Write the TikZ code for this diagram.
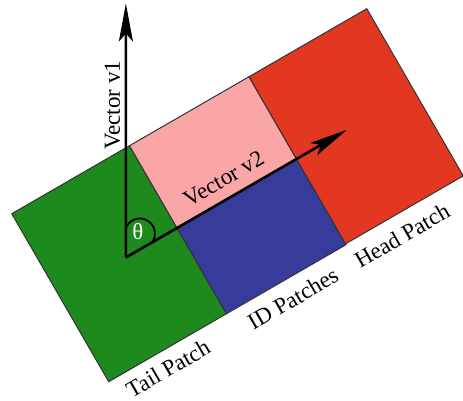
\documentclass[tikz,border=0pt]{standalone}
\usepackage{fontspec}
\setmainfont{Liberation Serif}
\usetikzlibrary{arrows.meta}

\definecolor{tailgreen}{RGB}{30,138,30}
\definecolor{idpink}{RGB}{250,166,166}
\definecolor{idblue}{RGB}{55,60,155}
\definecolor{headred}{RGB}{226,56,34}

\begin{document}
\begin{tikzpicture}[x=0.5pt, y=0.5pt, >={Stealth[length=19pt,width=7pt,inset=4pt]},
    patch/.style={draw=black!80, line width=0.5pt},
    vec/.style={->, line width=1.3pt},
    lbl/.style={font=\fontsize{11.5}{13}\selectfont, inner sep=0pt}]
  \useasboundingbox (0,0) rectangle (463,401);
  % patches, in the frame of the strip
  \begin{scope}[shift={(177,173)}, rotate=30]
    \draw[patch, fill=tailgreen] (-136,-99) rectangle (0,95);
    \draw[patch, fill=idpink] (0,0) rectangle (138,95);
    \draw[patch, fill=idblue] (0,-99) rectangle (138,0);
    \draw[patch, fill=headred] (138,-98) rectangle (274,95);
    \coordinate (orig) at (-59,0);
    \coordinate (v2tip) at (196,0);
    \path (orig) ++(60:254) coordinate (v1tip);
    \node[lbl, rotate=30, anchor=base] (v2lbl) at (65,12) {Vector v2};
    \node[lbl, rotate=30, anchor=base] (tail) at (-78,-125) {Tail Patch};
    \node[lbl, rotate=30, anchor=base] (idp) at (65,-127) {ID Patches};
    \node[lbl, rotate=30, anchor=base] (head) at (191,-127) {Head Patch};
  \end{scope}
  % vectors and angle
  \draw[vec] (orig) -- (v1tip);
  \draw[vec] (orig) -- (v2tip);
  \draw[line width=0.9pt] (orig) ++(0,29.4) arc[start angle=159, end angle=-37, radius=15];
  \node[lbl, text=white] (theta) at (138,169) {θ};
  \node[lbl, rotate=90, anchor=base west] (v1lbl) at (120,251) {Vector v1};
\end{tikzpicture}
\end{document}
